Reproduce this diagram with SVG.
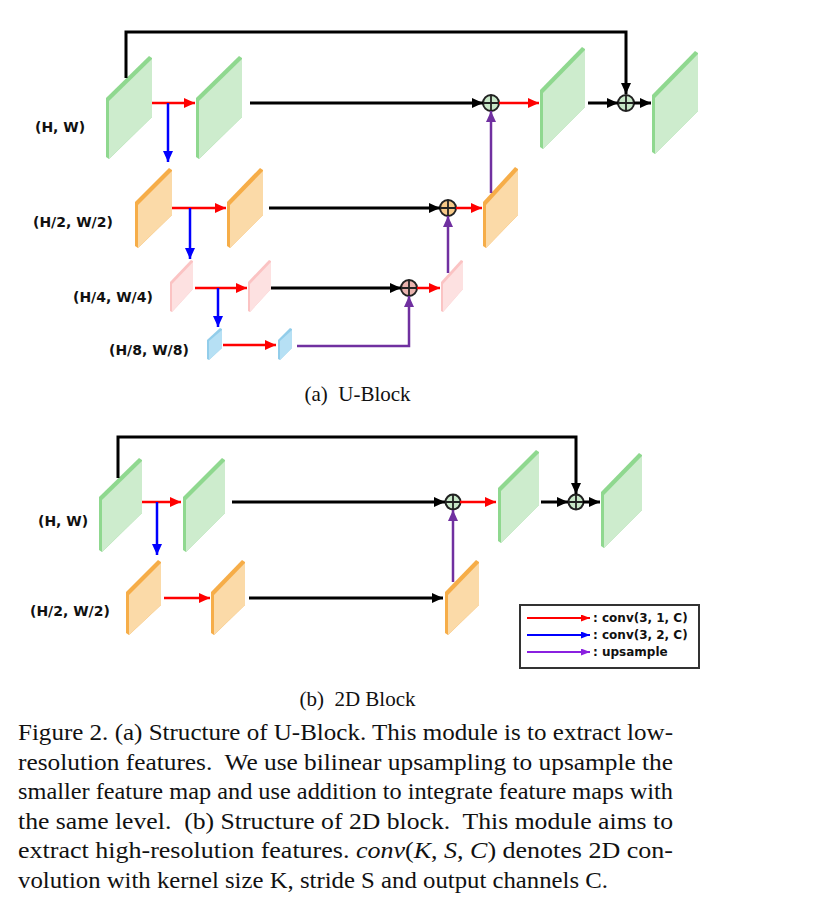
<svg xmlns="http://www.w3.org/2000/svg" width="820" height="916" viewBox="0 0 820 916">
<style>
.lbl{font-family:"DejaVu Sans",sans-serif;font-weight:bold;font-size:14px;fill:#111}
.leg{font-family:"DejaVu Sans",sans-serif;font-weight:bold;font-size:12px;fill:#111}
.sub{font-family:"Liberation Serif",serif;font-size:21px;fill:#111}
.cap{font-family:"Liberation Serif",serif;font-size:23px;fill:#111}
.k{fill:none;stroke:#000;stroke-width:3}
.r{fill:none;stroke:#ff0000;stroke-width:2.5}
.b{fill:none;stroke:#0000ff;stroke-width:2.5}
.p{fill:none;stroke:#7030a0;stroke-width:2.5}
.gd{fill:#8fd88f}.gf{fill:#cdeccd}
.od{fill:#f6ad48}.of{fill:#fbdaa8}
.pd{fill:#fbc3c3}.pf{fill:#fde1e1}
.bd{fill:#92cdea}.bf{fill:#b6e0f4}
.sum{stroke:#222;stroke-width:2}
.x{stroke:#222;stroke-width:1.8;fill:none}
</style>
<defs>
<marker id="ak" markerUnits="userSpaceOnUse" markerWidth="11" markerHeight="10" refX="11" refY="5" orient="auto"><path d="M0,0 L11,5 L0,10 z" fill="#000"/></marker>
<marker id="ar" markerUnits="userSpaceOnUse" markerWidth="11" markerHeight="10" refX="11" refY="5" orient="auto"><path d="M0,0 L11,5 L0,10 z" fill="#ff0000"/></marker>
<marker id="ab" markerUnits="userSpaceOnUse" markerWidth="11" markerHeight="10" refX="11" refY="5" orient="auto"><path d="M0,0 L11,5 L0,10 z" fill="#0000ff"/></marker>
<marker id="ap" markerUnits="userSpaceOnUse" markerWidth="11" markerHeight="10" refX="11" refY="5" orient="auto"><path d="M0,0 L11,5 L0,10 z" fill="#7030a0"/></marker>
<marker id="lr" markerUnits="userSpaceOnUse" markerWidth="9" markerHeight="7" refX="9" refY="3.5" orient="auto"><path d="M0,0 L9,3.5 L0,7 z" fill="#ff0000"/></marker>
<marker id="lb" markerUnits="userSpaceOnUse" markerWidth="9" markerHeight="7" refX="9" refY="3.5" orient="auto"><path d="M0,0 L9,3.5 L0,7 z" fill="#0000ff"/></marker>
<marker id="lp" markerUnits="userSpaceOnUse" markerWidth="9" markerHeight="7" refX="9" refY="3.5" orient="auto"><path d="M0,0 L9,3.5 L0,7 z" fill="#8a20e0"/></marker>
</defs>
<rect width="820" height="916" fill="#fff"/>

<!-- (a) U-Block nodes -->
<g id="a-g1"><polygon class="gd" points="106,98 149,56 152,58 152,117 109,159 106,157"/><polygon class="gf" points="109,101 152,59 152,117 109,159"/></g>
<g id="a-g2"><polygon class="gd" points="196,98 239,56 242,58 242,117 199,159 196,157"/><polygon class="gf" points="199,101 242,59 242,117 199,159"/></g>
<g id="a-g3"><polygon class="gd" points="540,90 582,47 585,49 585,107 543,149 540,147"/><polygon class="gf" points="543,93 585,50 585,107 543,149"/></g>
<g id="a-g4"><polygon class="gd" points="652,95 695,51 698,53 698,111 655,154 652,152"/><polygon class="gf" points="655,98 698,54 698,111 655,154"/></g>
<g id="a-o1"><polygon class="od" points="135,202 169,168 172,170 172,215 138,248 135,246"/><polygon class="of" points="138,205 172,171 172,215 138,248"/></g>
<g id="a-o2"><polygon class="od" points="227,202 260,168 263,170 263,215 230,248 227,246"/><polygon class="of" points="230,205 263,171 263,215 230,248"/></g>
<g id="a-o3"><polygon class="od" points="483,202 515,167 518,169 518,215 486,248 483,246"/><polygon class="of" points="486,205 518,170 518,215 486,248"/></g>
<g id="a-p1"><polygon class="pd" points="170,282 191,260 193,261 193,289 172,312 170,311"/><polygon class="pf" points="172,284 193,262 193,289 172,312"/></g>
<g id="a-p2"><polygon class="pd" points="248,282 269,260 271,261 271,289 250,312 248,311"/><polygon class="pf" points="250,284 271,262 271,289 250,312"/></g>
<g id="a-p3"><polygon class="pd" points="441,282 461,260 463,261 463,289 443,312 441,311"/><polygon class="pf" points="443,284 463,262 463,289 443,312"/></g>
<g id="a-b1"><polygon class="bd" points="207,340 220,328 222,329 222,348 209,360 207,359"/><polygon class="bf" points="209,341 222,330 222,348 209,360"/></g>
<g id="a-b2"><polygon class="bd" points="278,340 290,328 292,329 292,348 280,360 278,359"/><polygon class="bf" points="280,341 292,330 292,348 280,360"/></g>
<g id="a-sum1"><circle class="sum" cx="491" cy="103" r="8" fill="#c8e8c8"/><path class="x" d="M483,103 H499 M491,95 V111"/></g>
<g id="a-sum2"><circle class="sum" cx="626" cy="103" r="8" fill="#c8e8c8"/><path class="x" d="M618,103 H634 M626,95 V111"/></g>
<g id="a-sum3"><circle class="sum" cx="448" cy="208" r="8" fill="#f7c987"/><path class="x" d="M440,208 H456 M448,200 V216"/></g>
<g id="a-sum4"><circle class="sum" cx="409" cy="288" r="8" fill="#e9b3ae"/><path class="x" d="M401,288 H417 M409,280 V296"/></g>
<g id="a-labels">
<text class="lbl" x="35" y="132">(H, W)</text>
<text class="lbl" x="33" y="227">(H/2, W/2)</text>
<text class="lbl" x="73" y="302">(H/4, W/4)</text>
<text class="lbl" x="109" y="355">(H/8, W/8)</text>
</g>

<g id="a-connectors">
<path class="k" d="M126,78 V32 H626 V94" marker-end="url(#ak)"/>
<path class="r" d="M152,103 H195" marker-end="url(#ar)"/>
<path class="b" d="M168,103 V162" marker-end="url(#ab)"/>
<path class="k" d="M250,103 H483" marker-end="url(#ak)"/>
<path class="r" d="M499,103 H539" marker-end="url(#ar)"/>
<path class="k" d="M588,103 H618" marker-end="url(#ak)"/>
<path class="k" d="M634,103 H651" marker-end="url(#ak)"/>
<path class="p" d="M491,193 V111" marker-end="url(#ap)"/>
<path class="r" d="M172,208 H226" marker-end="url(#ar)"/>
<path class="b" d="M190,208 V259" marker-end="url(#ab)"/>
<path class="k" d="M269,208 H440" marker-end="url(#ak)"/>
<path class="r" d="M456,208 H482" marker-end="url(#ar)"/>
<path class="p" d="M448,273 V216" marker-end="url(#ap)"/>
<path class="r" d="M195,288 H247" marker-end="url(#ar)"/>
<path class="b" d="M218,288 V327" marker-end="url(#ab)"/>
<path class="k" d="M271,288 H401" marker-end="url(#ak)"/>
<path class="r" d="M417,288 H440" marker-end="url(#ar)"/>
<path class="p" d="M297,346 H409 V296" marker-end="url(#ap)"/>
<path class="r" d="M223,345 H276" marker-end="url(#ar)"/>
</g>
<text class="sub" x="357.5" y="401" text-anchor="middle" xml:space="preserve">(a)  U-Block</text>

<!-- (b) 2D Block nodes -->
<g id="b-g1"><polygon class="gd" points="99,497 139,458 142,460 142,513 102,552 99,550"/><polygon class="gf" points="102,500 142,461 142,513 102,552"/></g>
<g id="b-g2"><polygon class="gd" points="183,497 222,458 225,460 225,513 186,552 183,550"/><polygon class="gf" points="186,500 225,461 225,513 186,552"/></g>
<g id="b-g3"><polygon class="gd" points="498,488 536,450 539,452 539,505 501,543 498,541"/><polygon class="gf" points="501,491 539,453 539,505 501,543"/></g>
<g id="b-g4"><polygon class="gd" points="601,492 639,453 642,455 642,510 604,548 601,546"/><polygon class="gf" points="604,495 642,456 642,510 604,548"/></g>
<g id="b-o1"><polygon class="od" points="126,592 158,560 161,562 161,605 129,635 126,633"/><polygon class="of" points="129,595 161,563 161,605 129,635"/></g>
<g id="b-o2"><polygon class="od" points="211,592 242,560 245,562 245,605 214,635 211,633"/><polygon class="of" points="214,595 245,563 245,605 214,635"/></g>
<g id="b-o3"><polygon class="od" points="445,592 476,560 479,562 479,605 448,635 445,633"/><polygon class="of" points="448,595 479,563 479,605 448,635"/></g>
<g id="b-sum1"><circle class="sum" cx="453" cy="502" r="7.5" fill="#c8e8c8"/><path class="x" d="M445.5,502 H460.5 M453,494.5 V509.5"/></g>
<g id="b-sum2"><circle class="sum" cx="576" cy="502" r="7.5" fill="#c8e8c8"/><path class="x" d="M568.5,502 H583.5 M576,494.5 V509.5"/></g>
<g id="b-labels">
<text class="lbl" x="38" y="526">(H, W)</text>
<text class="lbl" x="30" y="616">(H/2, W/2)</text>
</g>
<g id="b-connectors">
<path class="k" d="M118,478 V437 H576 V494" marker-end="url(#ak)"/>
<path class="r" d="M142,502 H181" marker-end="url(#ar)"/>
<path class="b" d="M157,502 V555" marker-end="url(#ab)"/>
<path class="k" d="M232,502 H445" marker-end="url(#ak)"/>
<path class="r" d="M460,502 H496" marker-end="url(#ar)"/>
<path class="k" d="M541,502 H568" marker-end="url(#ak)"/>
<path class="k" d="M583,502 H600" marker-end="url(#ak)"/>
<path class="r" d="M164,598 H210" marker-end="url(#ar)"/>
<path class="k" d="M249,598 H443" marker-end="url(#ak)"/>
<path class="p" d="M453,582 V510" marker-end="url(#ap)"/>
</g>
<g id="legend">
<rect x="520" y="605" width="179" height="63" fill="#fff" stroke="#333" stroke-width="2"/>
<path d="M527,618 H590" stroke="#ff0000" stroke-width="2" marker-end="url(#lr)"/>
<path d="M527,635 H590" stroke="#0000ff" stroke-width="2" marker-end="url(#lb)"/>
<path d="M527,652 H590" stroke="#8a20e0" stroke-width="2" marker-end="url(#lp)"/>
<text class="leg" x="593" y="622">: conv(3, 1, C)</text>
<text class="leg" x="593" y="639">: conv(3, 2, C)</text>
<text class="leg" x="593" y="656">: upsample</text>
</g>
<text class="sub" x="357.5" y="706" text-anchor="middle" xml:space="preserve">(b)  2D Block</text>

<g id="caption">
<text class="cap" x="18" y="740" textLength="655" lengthAdjust="spacingAndGlyphs">Figure 2. (a) Structure of U-Block. This module is to extract low-</text>
<text class="cap" x="18" y="769.6" textLength="655" lengthAdjust="spacingAndGlyphs" xml:space="preserve">resolution features.  We use bilinear upsampling to upsample the</text>
<text class="cap" x="18" y="799.2" textLength="655" lengthAdjust="spacingAndGlyphs">smaller feature map and use addition to integrate feature maps with</text>
<text class="cap" x="18" y="828.8" textLength="655" lengthAdjust="spacingAndGlyphs" xml:space="preserve">the same level.  (b) Structure of 2D block.  This module aims to</text>
<text class="cap" x="18" y="858.4" textLength="655" lengthAdjust="spacingAndGlyphs">extract high-resolution features. <tspan font-style="italic">conv</tspan>(<tspan font-style="italic">K</tspan>, <tspan font-style="italic">S</tspan>, <tspan font-style="italic">C</tspan>) denotes 2D con-</text>
<text class="cap" x="18" y="888" textLength="590" lengthAdjust="spacingAndGlyphs">volution with kernel size K, stride S and output channels C.</text>
</g>
</svg>
